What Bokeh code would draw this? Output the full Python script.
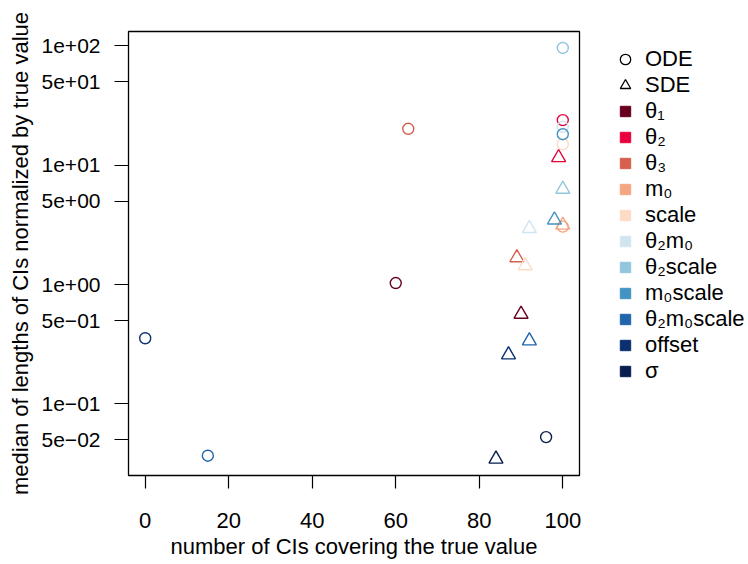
import math
from bokeh.plotting import figure
from bokeh.layouts import row
from bokeh.models import (Range1d, FixedTicker, CustomJSTickFormatter, Legend,
                          LegendItem, ColumnDataSource)
from bokeh.embed import file_html
from bokeh.resources import INLINE

# ---- data ----
params = ["θ₁", "θ₂", "θ₃", "m₀", "scale", "θ₂m₀", "θ₂scale", "m₀scale",
          "θ₂m₀scale", "offset", "σ"]
colors = ["#67001F", "#E8003C", "#D6604D", "#F4A582", "#FDDBC7", "#D1E5F0",
          "#92C5DE", "#4393C3", "#2166AC", "#0B3070", "#081D50"]
ode_cover = [60, 100, 63, 100, 100, 100, 100, 100, 15, 0, 96]
ode_len = [1.03, 23.9, 20.2, 3.06, 15.0, 21.0, 96.2, 18.2, 0.0368, 0.355, 0.0527]
sde_cover = [90, 99, 89, 100, 91, 92, 100, 98, 92, 87, 84]
sde_len = [0.565, 11.6, 1.68, 3.15, 1.44, 2.95, 6.3, 3.48, 0.338, 0.258, 0.0345]

x_ticks = [0, 20, 40, 60, 80, 100]
y_ticks = [0.05, 0.1, 0.5, 1, 5, 10, 50, 100]
y_tick_labels = ["5e−02", "1e−01", "5e−01", "1e+00", "5e+00", "1e+01", "5e+01", "1e+02"]

x_label = "number of CIs covering the true value"
y_label = "median of lengths of CIs normalized by true value"
series_labels = ["ODE", "SDE"]

FONT = "Liberation Sans"

# R-style 4% range extension
allx = ode_cover + sde_cover
ally = [math.log10(v) for v in ode_len + sde_len]
xpad = 0.04 * (max(allx) - min(allx))
ypad = 0.04 * (max(ally) - min(ally))
x_range = Range1d(min(allx) - xpad, max(allx) + xpad)
y_range = Range1d(10 ** (min(ally) - ypad), 10 ** (max(ally) + ypad))

p = figure(width=588, height=562,
           min_border_left=128, min_border_right=9,
           min_border_top=31, min_border_bottom=87,
           x_range=x_range, y_range=y_range, y_axis_type="log",
           output_backend="svg", toolbar_location=None)

p.grid.grid_line_color = None
p.outline_line_color = "black"
p.outline_line_width = 1.3
p.background_fill_color = "white"
p.border_fill_color = "white"

p.xaxis[0].ticker = FixedTicker(ticks=x_ticks)
p.yaxis[0].ticker = FixedTicker(ticks=y_ticks)
p.yaxis[0].formatter = CustomJSTickFormatter(
    args=dict(vals=y_ticks, labs=y_tick_labels),
    code="""
const i = vals.findIndex(v => Math.abs(Math.log10(v) - Math.log10(tick)) < 1e-6);
return i >= 0 ? labs[i] : '';
""")

for ax in [p.xaxis[0], p.yaxis[0]]:
    ax.axis_line_color = None
    ax.major_tick_line_color = "black"
    ax.major_tick_line_width = 1.2
    ax.major_tick_in = 0
    ax.minor_tick_line_color = None
    ax.major_label_text_font = FONT
    ax.major_label_text_color = "black"
    ax.axis_label_text_font = FONT
    ax.axis_label_text_font_size = "22px"
    ax.axis_label_text_font_style = "normal"
    ax.axis_label_text_color = "black"

p.xaxis[0].axis_label = x_label
p.yaxis[0].axis_label = y_label
p.xaxis[0].major_label_text_font_size = "22px"
p.yaxis[0].major_label_text_font_size = "21px"
p.xaxis[0].major_tick_out = 13
p.yaxis[0].major_tick_out = 14
p.xaxis[0].major_label_standoff = 24
p.xaxis[0].axis_label_standoff = 3
p.yaxis[0].major_label_standoff = 14
p.yaxis[0].axis_label_standoff = 6

ode_src = ColumnDataSource(dict(x=ode_cover, y=ode_len, c=colors))
sde_src = ColumnDataSource(dict(x=sde_cover, y=sde_len, c=colors))
p.scatter("x", "y", source=ode_src, marker="circle", size=11,
          fill_color=None, line_color="c", line_width=1.4)
p.scatter("x", "y", source=sde_src, marker="triangle", size=14,
          fill_color=None, line_color="c", line_width=1.4)

# ---- legend panel: a bare figure whose frame fills it ----
q = figure(width=156, height=562, min_border=0,
           x_range=Range1d(1, 2), y_range=Range1d(1, 2),
           output_backend="svg", toolbar_location=None)
q.axis.visible = False
q.grid.grid_line_color = None
q.outline_line_color = None
q.background_fill_color = "white"
q.border_fill_color = "white"

# proxy renderers (single off-range point, only used for legend swatches)
r_ode = q.scatter(x=[0], y=[0], marker="circle", size=10, fill_color=None,
                  line_color="black", line_width=1.3)
r_sde = q.scatter(x=[0], y=[0], marker="triangle", size=12, fill_color=None,
                  line_color="black", line_width=1.3)
items = [LegendItem(label=series_labels[0], renderers=[r_ode]),
         LegendItem(label=series_labels[1], renderers=[r_sde])]
for lab, c in zip(params, colors):
    r = q.scatter(x=[0], y=[0], marker="square", fill_color=c, line_color=c)
    items.append(LegendItem(label=lab, renderers=[r]))

legend = Legend(items=items, location=(24, 91), orientation="vertical",
                glyph_width=26, glyph_height=26, label_height=26,
                spacing=0, padding=0, margin=0, label_standoff=7,
                border_line_color=None, background_fill_alpha=0,
                label_text_font=FONT, label_text_font_size="22px",
                label_text_color="black")
q.add_layout(legend)

layout = row(p, q)
open("out.html", "w").write(file_html(layout, INLINE))
